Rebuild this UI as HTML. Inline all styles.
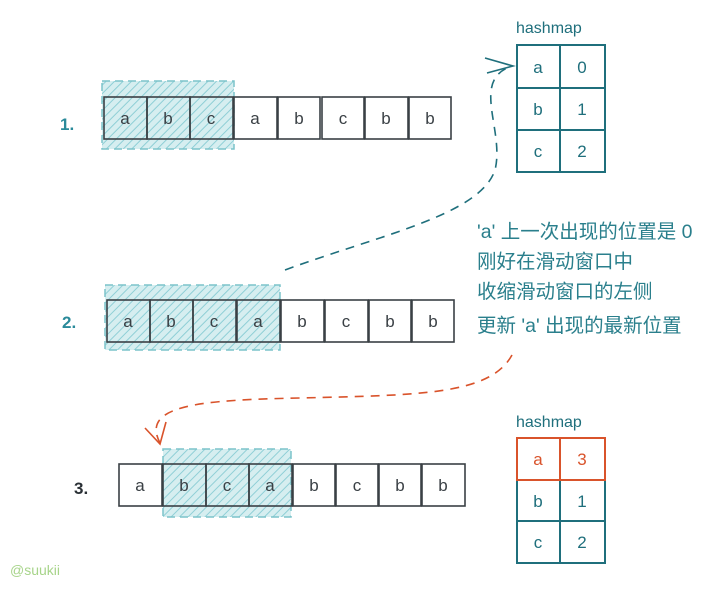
<!DOCTYPE html>
<html><head><meta charset="utf-8"><style>
body{margin:0;background:#fff;width:725px;height:593px;overflow:hidden}
svg text{font-family:"Liberation Sans","Noto Sans CJK SC",sans-serif}
</style></head><body>
<svg width="725" height="593" xmlns="http://www.w3.org/2000/svg">
<defs><pattern id="h" width="6" height="6" patternUnits="userSpaceOnUse" patternTransform="rotate(45)"><rect width="6" height="6" fill="#d6eef0"/><line x1="0" y1="0" x2="0" y2="6" stroke="#8fcfd6" stroke-width="2"/></pattern></defs>
<rect x="102" y="81" width="132" height="68" fill="url(#h)" stroke="#7cc3ca" stroke-dasharray="8 5" stroke-width="1.5"/>
<rect x="105" y="285" width="175" height="65" fill="url(#h)" stroke="#7cc3ca" stroke-dasharray="8 5" stroke-width="1.5"/>
<rect x="163" y="449" width="128" height="68" fill="url(#h)" stroke="#7cc3ca" stroke-dasharray="8 5" stroke-width="1.5"/>
<g fill="none" stroke="#3a4045" stroke-width="1.6">
<rect x="104" y="97" width="43" height="42"/><rect x="147" y="97" width="43" height="42"/><rect x="190" y="97" width="43" height="42"/><rect x="234" y="97" width="43" height="42"/><rect x="278" y="97" width="42" height="42"/><rect x="322" y="97" width="42" height="42"/><rect x="365" y="97" width="43" height="42"/><rect x="409" y="97" width="42" height="42"/>
<rect x="107" y="300" width="43" height="42"/><rect x="150" y="300" width="43" height="42"/><rect x="193" y="300" width="43" height="42"/><rect x="237" y="300" width="43" height="42"/><rect x="281" y="300" width="43" height="42"/><rect x="325" y="300" width="43" height="42"/><rect x="369" y="300" width="42" height="42"/><rect x="412" y="300" width="42" height="42"/>
<rect x="119" y="464" width="43" height="42"/><rect x="163" y="464" width="43" height="42"/><rect x="206" y="464" width="43" height="42"/><rect x="249" y="464" width="43" height="42"/><rect x="293" y="464" width="42" height="42"/><rect x="336" y="464" width="42" height="42"/><rect x="379" y="464" width="42" height="42"/><rect x="422" y="464" width="43" height="42"/>
</g>
<g font-size="17" fill="#3a4045" text-anchor="middle">
<text x="125" y="124">a</text><text x="168" y="124">b</text><text x="211" y="124">c</text><text x="255" y="124">a</text><text x="299" y="124">b</text><text x="343" y="124">c</text><text x="386" y="124">b</text><text x="430" y="124">b</text>
<text x="128" y="327">a</text><text x="171" y="327">b</text><text x="214" y="327">c</text><text x="258" y="327">a</text><text x="302" y="327">b</text><text x="346" y="327">c</text><text x="390" y="327">b</text><text x="433" y="327">b</text>
<text x="140" y="491">a</text><text x="184" y="491">b</text><text x="227" y="491">c</text><text x="270" y="491">a</text><text x="314" y="491">b</text><text x="357" y="491">c</text><text x="400" y="491">b</text><text x="443" y="491">b</text>
</g>
<g font-size="17" font-weight="bold">
<text x="60" y="130" fill="#2a8a9a">1.</text>
<text x="62" y="328" fill="#2a8a9a">2.</text>
<text x="74" y="494" fill="#2a3035">3.</text>
</g>
<g fill="none" stroke="#1f6f7c" stroke-width="2">
<rect x="517" y="45" width="43" height="43"/><rect x="560" y="45" width="45" height="43"/>
<rect x="517" y="88" width="43" height="42"/><rect x="560" y="88" width="45" height="42"/>
<rect x="517" y="130" width="43" height="42"/><rect x="560" y="130" width="45" height="42"/>
<rect x="517" y="480" width="43" height="41"/><rect x="560" y="480" width="45" height="41"/>
<rect x="517" y="521" width="43" height="42"/><rect x="560" y="521" width="45" height="42"/>
</g>
<g fill="none" stroke="#d9532b" stroke-width="2"><rect x="517" y="438" width="43" height="42"/><rect x="560" y="438" width="45" height="42"/></g>
<g font-size="17" fill="#1f6f7c" text-anchor="middle">
<text x="538" y="73">a</text><text x="582" y="73">0</text><text x="538" y="115">b</text><text x="582" y="115">1</text><text x="538" y="157">c</text><text x="582" y="157">2</text>
<text x="538" y="507">b</text><text x="582" y="507">1</text><text x="538" y="548">c</text><text x="582" y="548">2</text>
</g>
<g font-size="17" fill="#d9532b" text-anchor="middle"><text x="538" y="465">a</text><text x="582" y="465">3</text></g>
<g font-size="16" fill="#1f6f7c"><text x="516" y="33">hashmap</text><text x="516" y="427">hashmap</text></g>
<g font-size="19.5" fill="#2a7f8c">
<text x="477" y="238">'a'  上一次出现的位置是  0</text>
<text x="477" y="268">刚好在滑动窗口中</text>
<text x="477" y="298">收缩滑动窗口的左侧</text>
<text x="477" y="332">更新  'a'  出现的最新位置</text>
</g>
<path d="M285 270 C380 235 480 215 495 170 C505 130 470 80 512 66" fill="none" stroke="#1f6f7c" stroke-width="1.6" stroke-dasharray="9 7"/>
<path d="M485 58 L513 66 L487 73" fill="none" stroke="#1f6f7c" stroke-width="1.6"/>
<path d="M512 355 C490 395 420 395 300 398 C200 400 140 405 160 443" fill="none" stroke="#d9532b" stroke-width="1.6" stroke-dasharray="9 7"/>
<path d="M145 428 L160 444 L166 422" fill="none" stroke="#d9532b" stroke-width="1.6"/>
<text x="10" y="575" font-size="14" fill="#a7d48a">@suukii</text>
</svg>
</body></html>
